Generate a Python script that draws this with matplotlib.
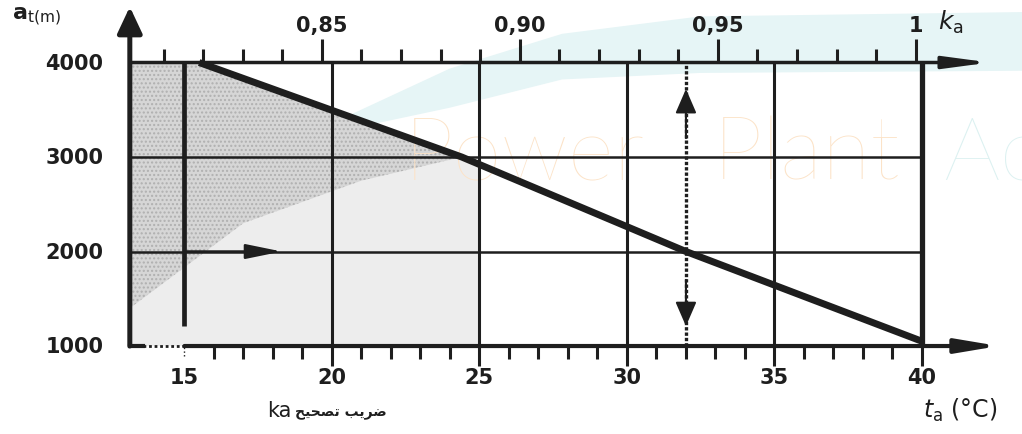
import matplotlib
matplotlib.use("Agg")
import matplotlib.pyplot as plt

# chart values
altitudes = [1000, 2000, 3000, 4000]
alt_labels = ["1000", "2000", "3000", "4000"]
temps = [15, 20, 25, 30, 35, 40]
temp_labels = ["15", "20", "25", "30", "35", "40"]
k_major = [0.85, 0.90, 0.95, 1.00]
k_labels = ["0,85", "0,90", "0,95", "1"]
k_minor = [0.81, 0.82, 0.83, 0.84, 0.86, 0.87, 0.88, 0.89, 0.91, 0.92,
           0.93, 0.94, 0.96, 0.97, 0.98, 0.99]
temp_minor = [16, 17, 18, 19, 21, 22, 23, 24, 26, 27, 28, 29,
              31, 32, 33, 34, 36, 37, 38, 39]

# the derating line (altitude limit vs ambient temperature)
diag_temp = [15.5, 24.4, 32.0, 40.0]
diag_alt = [4000, 3000, 2000, 1050]

# shaded (stippled) zone
shade_temp = [13.15, 13.15, 15.5, 24.4, 25.0, 25.0]
shade_alt = [1000, 4000, 4000, 3000, 2900, 1000]
shade2_temp = [13.15, 13.15, 15.5, 24.4, 21.0, 17.0, 13.15]
shade2_alt = [1400, 4000, 4000, 3000, 2750, 2300, 1400]

# faint watermark band (axes fraction)
band_x = [0.33, 0.44, 0.55, 0.685, 1.0, 1.0, 0.685, 0.55, 0.44, 0.34]
band_y = [0.72, 0.84, 0.92, 0.96, 0.97, 0.835, 0.83, 0.815, 0.75, 0.70]

left_t = 13.15          # vertical altitude axis position
example_t = 32.0        # reading example (double arrow)
ink = "#1e1e1e"


def k_to_temp(k):
    # top k_a scale expressed in the bottom temperature units
    return 19.66 + (k - 0.85) * 134.2


fig = plt.figure(figsize=(10.22, 4.35), dpi=100)
ax = fig.add_axes([0, 0, 1, 1])
ax.set_xlim(8.75, 43.39)
ax.set_ylim(69, 4672)
ax.axis("off")

# watermark
ax.fill(band_x, band_y, color="#e6f5f6", lw=0, transform=ax.transAxes, zorder=0)
ax.text(30.6, 2770, "Power", fontsize=64, color="#fce3c8", ha="right",
        family="Lato", fontweight="light", zorder=2)
ax.text(32.9, 2770, "Plant", fontsize=64, color="#fce3c8",
        family="Lato", fontweight="light", zorder=2)
ax.text(40.7, 2770, "Ac", fontsize=64, color="#dcf1f1",
        family="Lato", fontweight="light", zorder=2)

# shading
ax.fill(shade_temp, shade_alt, color="#ededed", lw=0, zorder=1)
ax.fill(shade2_temp, shade2_alt, facecolor="#d6d6d6", edgecolor="#b0b0b0",
        hatch="....", lw=0, zorder=1)

# grid
ax.vlines(temps[1:5], 1000, 4000, color=ink, lw=2.2, zorder=3)
ax.vlines(40, 1000, 4000, color=ink, lw=3.8, zorder=3)
ax.vlines(15, 1210, 4000, color=ink, lw=3.4, zorder=3)
ax.hlines(altitudes[1:3], left_t, 40, color=ink, lw=1.8, zorder=3)

# ticks on the temperature axis
ax.vlines(temp_minor, 1000 - 140, 1000, color=ink, lw=2.2, zorder=3)
ax.vlines(temps[1:], 1000 - 215, 1000, color=ink, lw=2.2, zorder=3)
ax.vlines(15, 1000 - 110, 1000, color=ink, lw=1.0, linestyles=":", zorder=3)

# ticks on the k_a axis
ax.vlines([k_to_temp(k) for k in k_minor], 4000, 4000 + 140, color=ink, lw=2.2, zorder=3)
ax.vlines([k_to_temp(k) for k in k_major], 4000, 4000 + 245, color=ink, lw=2.2, zorder=3)

# diagonal line
ax.plot(diag_temp, diag_alt, color=ink, lw=5, solid_capstyle="butt", zorder=4)

# axes as arrows
ax.annotate("", xy=(left_t, 4590), xytext=(left_t, 1000),
            arrowprops=dict(arrowstyle="-|>,head_length=16,head_width=7.5",
                            mutation_scale=1, lw=3.6, color=ink,
                            shrinkA=0, shrinkB=0), zorder=5)
ax.annotate("", xy=(42.3, 4000), xytext=(left_t, 4000),
            arrowprops=dict(arrowstyle="-|>,head_length=27,head_width=3.6",
                            mutation_scale=1, lw=2.5, color=ink,
                            shrinkA=0, shrinkB=0), zorder=5)
ax.plot([left_t, 13.6], [1000, 1000], color=ink, lw=3.0, zorder=5)
ax.plot([13.6, 15], [1000, 1000], color=ink, lw=2.0, linestyle=(0, (1, 1)), zorder=5)
ax.annotate("", xy=(42.6, 1000), xytext=(15, 1000),
            arrowprops=dict(arrowstyle="-|>,head_length=25,head_width=4.2",
                            mutation_scale=1, lw=3.0, color=ink,
                            shrinkA=0, shrinkB=0), zorder=5)

# reading example
ax.plot([example_t, example_t], [1000, 4000], color=ink, lw=2.4,
        linestyle=(0, (1, 0.6)), zorder=4)
ax.annotate("", xy=(example_t, 3720), xytext=(example_t, 3200),
            arrowprops=dict(arrowstyle="-|>,head_length=15,head_width=6.5",
                            mutation_scale=1, lw=1.5, color=ink,
                            shrinkA=0, shrinkB=0), zorder=5)
ax.annotate("", xy=(example_t, 1210), xytext=(example_t, 1700),
            arrowprops=dict(arrowstyle="-|>,head_length=15,head_width=6.5",
                            mutation_scale=1, lw=1.5, color=ink,
                            shrinkA=0, shrinkB=0), zorder=5)
ax.annotate("", xy=(18.3, 2000), xytext=(15, 2000),
            arrowprops=dict(arrowstyle="-|>,head_length=22,head_width=4.5",
                            mutation_scale=1, lw=1.8, color=ink,
                            shrinkA=0, shrinkB=0), zorder=5)

# labels
num_font = dict(fontsize=15, fontweight="bold", color=ink, family="DejaVu Sans")
for a, lab in zip(altitudes, alt_labels):
    ax.text(12.25, a, lab, ha="right", va="center", **num_font)
for t, lab in zip(temps, temp_labels):
    ax.text(t, 1000 - 330, lab, ha="center", va="center", **num_font)
for k, lab in zip(k_major, k_labels):
    ax.text(k_to_temp(k), 4400, lab, ha="center", va="center", **num_font)

ax.text(9.15, 4500, r"$\mathbf{a}_{\mathrm{t(m)}}$", fontsize=16, ha="left",
        va="center", color=ink)
ax.text(40.55, 4430, r"$k_{\mathrm{a}}$", fontsize=18, ha="left",
        va="center", color=ink)
ax.text(40.05, 330, r"$t_{\mathrm{a}}$ (°C)", fontsize=17, ha="left",
        va="center", color=ink)
ax.text(17.8, 320, "ka", fontsize=15, ha="left", va="center", color=ink,
        family="DejaVu Sans")
ax.text(18.75, 300, "\ufea2\ufef4\ufea4\ufebc\ufe97" + " " + "\ufe90\ufef3\ufeae\ufebf",
        fontsize=10, fontweight="bold", ha="left", va="center", color=ink,
        family=["DejaVu Sans"])

fig.savefig("out.png", dpi=100)
